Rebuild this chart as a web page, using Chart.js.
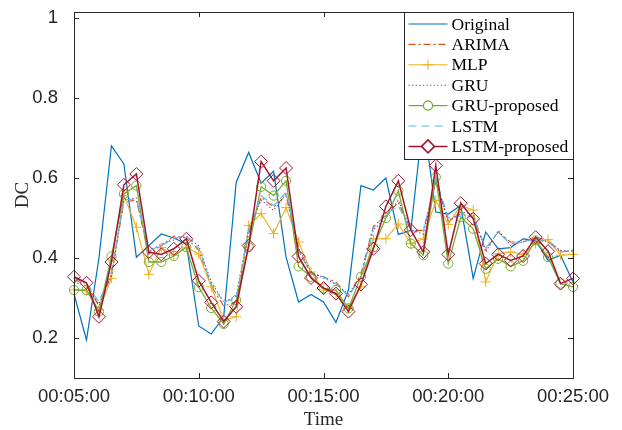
<!DOCTYPE html>
<html>
<head>
<meta charset="utf-8">
<script src="https://cdn.jsdelivr.net/npm/chart.js@4.4.1/dist/chart.umd.min.js"></script>
<style>
  html, body { margin: 0; padding: 0; background: #fff; }
</style>
</head>
<body>
<canvas id="c" width="622" height="430"></canvas>
<script>
// sample times, one every 30 s
const times = [
  '00:05:00','00:05:30','00:06:00','00:06:30','00:07:00','00:07:30','00:08:00','00:08:30',
  '00:09:00','00:09:30','00:10:00','00:10:30','00:11:00','00:11:30','00:12:00','00:12:30',
  '00:13:00','00:13:30','00:14:00','00:14:30','00:15:00','00:15:30','00:16:00','00:16:30',
  '00:17:00','00:17:30','00:18:00','00:18:30','00:19:00','00:19:30','00:20:00','00:20:30',
  '00:21:00','00:21:30','00:22:00','00:22:30','00:23:00','00:23:30','00:24:00','00:24:30',
  '00:25:00'
];
const xTickEvery = 10;
const yTicks = [0.2, 0.4, 0.6, 0.8, 1];

const original = [0.31, 0.195, 0.40, 0.68, 0.635, 0.402, 0.431, 0.46, 0.45, 0.436, 0.23, 0.21, 0.253, 0.589, 0.664, 0.587, 0.617, 0.402, 0.29, 0.309, 0.29, 0.239, 0.32, 0.581, 0.57, 0.60, 0.459, 0.469, 0.75, 0.515, 0.51, 0.531, 0.349, 0.465, 0.423, 0.426, 0.448, 0.444, 0.394, 0.407, 0.34];
const arima = [0.35, 0.335, 0.28, 0.36, 0.54, 0.545, 0.41, 0.43, 0.455, 0.45, 0.42, 0.33, 0.28, 0.29, 0.46, 0.552, 0.527, 0.556, 0.42, 0.36, 0.353, 0.34, 0.303, 0.36, 0.48, 0.506, 0.539, 0.469, 0.469, 0.59, 0.494, 0.51, 0.502, 0.42, 0.465, 0.44, 0.44, 0.452, 0.445, 0.415, 0.419];
const mlp = [0.32, 0.318, 0.27, 0.349, 0.556, 0.477, 0.359, 0.426, 0.407, 0.427, 0.41, 0.328, 0.245, 0.253, 0.481, 0.511, 0.461, 0.526, 0.44, 0.365, 0.32, 0.311, 0.274, 0.328, 0.448, 0.448, 0.485, 0.436, 0.448, 0.544, 0.484, 0.531, 0.52, 0.34, 0.411, 0.415, 0.409, 0.436, 0.446, 0.407, 0.409];
const gru = [0.34, 0.33, 0.285, 0.355, 0.545, 0.55, 0.415, 0.435, 0.445, 0.455, 0.43, 0.34, 0.29, 0.305, 0.47, 0.545, 0.519, 0.56, 0.425, 0.365, 0.35, 0.335, 0.31, 0.355, 0.47, 0.5, 0.545, 0.47, 0.46, 0.595, 0.49, 0.515, 0.51, 0.415, 0.469, 0.432, 0.44, 0.448, 0.44, 0.419, 0.417];
const gruProposed = [0.32, 0.32, 0.266, 0.404, 0.56, 0.581, 0.39, 0.39, 0.405, 0.427, 0.327, 0.275, 0.235, 0.295, 0.427, 0.578, 0.556, 0.593, 0.379, 0.353, 0.324, 0.32, 0.274, 0.353, 0.427, 0.5, 0.568, 0.436, 0.407, 0.602, 0.386, 0.502, 0.473, 0.373, 0.398, 0.379, 0.393, 0.444, 0.402, 0.336, 0.328];
const lstm = [0.345, 0.335, 0.29, 0.365, 0.545, 0.548, 0.42, 0.43, 0.45, 0.455, 0.425, 0.335, 0.29, 0.3, 0.47, 0.556, 0.531, 0.564, 0.419, 0.361, 0.353, 0.335, 0.305, 0.35, 0.475, 0.51, 0.53, 0.468, 0.465, 0.6, 0.5, 0.505, 0.505, 0.425, 0.464, 0.435, 0.44, 0.45, 0.44, 0.415, 0.42];
const lstmProposed = [0.353, 0.338, 0.253, 0.39, 0.583, 0.61, 0.415, 0.409, 0.423, 0.448, 0.343, 0.289, 0.241, 0.278, 0.431, 0.641, 0.593, 0.625, 0.404, 0.35, 0.325, 0.311, 0.266, 0.334, 0.423, 0.529, 0.593, 0.47, 0.415, 0.631, 0.409, 0.537, 0.498, 0.386, 0.409, 0.394, 0.405, 0.452, 0.417, 0.336, 0.349];

const series = [
  { label: 'Original',      data: original,     color: '#0072BD', dash: [],            marker: null,      width: 1.2 },
  { label: 'ARIMA',         data: arima,        color: '#D95319', dash: [7, 3, 2, 3],  marker: null,      width: 1.1 },
  { label: 'MLP',           data: mlp,          color: '#EDB120', dash: [],            marker: 'cross',   width: 1.1 },
  { label: 'GRU',           data: gru,          color: '#7E2F8E', dash: [1.2, 2.4],    marker: null,      width: 1.1 },
  { label: 'GRU-proposed',  data: gruProposed,  color: '#77AC30', dash: [],            marker: 'circle',  width: 1.3 },
  { label: 'LSTM',          data: lstm,         color: '#4DBEEE', dash: [8, 5],        marker: null,      width: 1.1 },
  { label: 'LSTM-proposed', data: lstmProposed, color: '#A2142F', dash: [],            marker: 'rectRot', width: 1.5 }
];
const markerSize = { cross: 5, circle: 4.6, rectRot: 6.5 };

const axisColor = '#262626';
const tickFont = { family: '"Liberation Sans", Arial, sans-serif', size: 18.5 };
const serif = '"Liberation Serif", "Times New Roman", serif';

// matlab-ish box, inward ticks and the legend in the corner
const matlabAxes = {
  id: 'matlabAxes',
  afterDraw(chart) {
    const { ctx, chartArea: a, scales: { x, y } } = chart;
    ctx.save();
    ctx.strokeStyle = axisColor;
    ctx.lineWidth = 1;
    ctx.setLineDash([]);
    ctx.beginPath();
    x.ticks.forEach(t => {
      const px = Math.round(x.getPixelForValue(t.value)) + 0.5;
      ctx.moveTo(px, a.bottom); ctx.lineTo(px, a.bottom - 5);
      ctx.moveTo(px, a.top); ctx.lineTo(px, a.top + 5);
    });
    y.ticks.forEach(t => {
      const py = Math.round(y.getPixelForValue(t.value)) + 0.5;
      ctx.moveTo(a.left, py); ctx.lineTo(a.left + 5, py);
      ctx.moveTo(a.right, py); ctx.lineTo(a.right - 5, py);
    });
    ctx.stroke();
    ctx.strokeRect(Math.round(a.left) + 0.5, Math.round(a.top) + 0.5,
      Math.round(a.right - a.left), Math.round(a.bottom - a.top));

    // legend
    const w = 169, h = 147, row = 20.4;
    const lx = Math.round(a.right - w) + 0.5, ly = Math.round(a.top) + 0.5;
    ctx.fillStyle = '#fff';
    ctx.fillRect(lx, ly, w, h);
    ctx.strokeStyle = axisColor;
    ctx.strokeRect(lx, ly, w, h);
    ctx.font = '17.5px ' + serif;
    ctx.textBaseline = 'middle';
    series.forEach((s, i) => {
      const cy = ly + 11.5 + i * row;
      ctx.strokeStyle = s.color;
      ctx.lineWidth = s.width;
      ctx.setLineDash(s.dash);
      ctx.beginPath();
      ctx.moveTo(lx + 4, cy); ctx.lineTo(lx + 43, cy);
      ctx.stroke();
      ctx.setLineDash([]);
      if (s.marker) {
        Chart.helpers.drawPoint(ctx, {
          pointStyle: s.marker, radius: markerSize[s.marker], rotation: 0, borderWidth: 1
        }, lx + 23.5, cy);
      }
      ctx.fillStyle = '#000';
      ctx.fillText(s.label, lx + 47, cy + 1);
      ctx.fillStyle = '#fff';
    });
    ctx.restore();
  }
};

new Chart(document.getElementById('c'), {
  type: 'line',
  data: {
    labels: times,
    datasets: series.map((s, i) => ({
      label: s.label,
      data: s.data,
      borderColor: s.color,
      backgroundColor: 'rgba(0,0,0,0)',
      borderWidth: s.width,
      borderDash: s.dash,
      pointStyle: s.marker || 'circle',
      pointRadius: s.marker ? markerSize[s.marker] : 0,
      pointBorderWidth: 1,
      pointBorderColor: s.color,
      pointBackgroundColor: 'rgba(0,0,0,0)',
      tension: 0,
      fill: false,
      clip: false,
      order: series.length - i
    }))
  },
  options: {
    responsive: false,
    animation: false,
    devicePixelRatio: 1,
    layout: { padding: { left: 0, right: 49, top: 12, bottom: 0 } },
    plugins: { legend: { display: false }, tooltip: { enabled: false } },
    scales: {
      x: {
        type: 'category',
        offset: false,
        grid: { display: false },
        border: { display: false },
        afterFit: s => { s.height = 52; s.paddingLeft = 0; s.paddingRight = 0; },
        afterBuildTicks: s => { s.ticks = s.ticks.filter(t => t.value % xTickEvery === 0); },
        ticks: { autoSkip: false, maxRotation: 0, color: axisColor, font: tickFont, padding: 0 },
        title: { display: true, text: 'Time', color: axisColor, font: { family: serif, size: 19 }, padding: { top: 0, bottom: -1 } }
      },
      y: {
        min: 0.1,
        max: 1.015,
        grid: { display: false },
        border: { display: false },
        afterFit: s => { s.width = 74; s.paddingTop = 0; s.paddingBottom = 0; },
        afterBuildTicks: s => { s.ticks = yTicks.map(v => ({ value: v })); },
        ticks: {
          color: axisColor, font: tickFont, padding: 8,
          callback: v => (v === 1 ? '1' : v.toFixed(1))
        },
        title: { display: true, text: 'DC', color: axisColor, font: { family: serif, size: 19 }, padding: 12 }
      }
    }
  },
  plugins: [matlabAxes]
});
</script>
</body>
</html>
